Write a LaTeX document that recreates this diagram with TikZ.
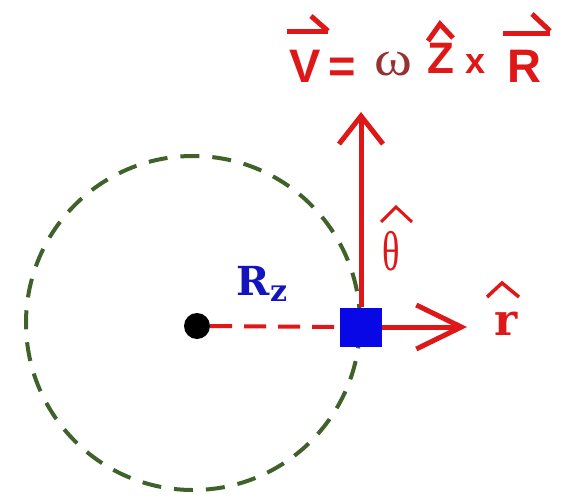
\documentclass[tikz,border=0pt]{standalone}
\usepackage{fontspec}
\setmainfont{Liberation Sans}
\newfontfamily\serifF{Liberation Serif}
\newfontfamily\slabF{DejaVu Serif}
\usetikzlibrary{arrows.meta}
\definecolor{vred}{RGB}{222,24,24}
\definecolor{omred}{RGB}{150,50,50}
\definecolor{cgreen}{RGB}{62,98,42}
\definecolor{sqblue}{RGB}{8,8,230}
\definecolor{rblue}{RGB}{20,20,190}
\tikzset{
  lbl/.style={anchor=base, inner sep=0pt, outer sep=0pt},
  big/.style={lbl, text=vred, font=\fontsize{47}{50}\selectfont\bfseries},
  vecbar/.style={vred, line width=5pt},
  hatline/.style={vred, line width=3.5pt},
  vecarrow/.style={vred, line width=5pt},
}
\begin{document}
\begin{tikzpicture}[x=1pt,y=-1pt]
\useasboundingbox (0,0) rectangle (570,498);
% orbit
\draw[cgreen, line width=4pt, dash pattern=on 19pt off 13pt] (193,323) circle[radius=167pt];
% centre and particle
\node[circle, fill=black, minimum size=26pt, inner sep=0pt] (dot) at (197,326) {};
\coordinate (up) at (361,112);
\coordinate (rt) at (467,327);
\draw[vred, line width=4pt, dash pattern=on 22pt off 12pt] (dot.east) -- (340,327);
\node[fill=sqblue, minimum width=42pt, minimum height=39pt, inner sep=0pt] (sq) at (361,327) {};
\draw[vecarrow, -{Straight Barb[length=28pt,width=44pt]}] (sq.north) -- (up);
\draw[vecarrow, -{Straight Barb[length=45pt,width=44pt]}] (sq.east) -- (rt);
% labels
\node[lbl, text=rblue, font=\fontsize{40}{46}\selectfont\slabF\bfseries] (Rl) at (262,295)
  {R\raisebox{-6pt}{\fontsize{30}{34}\selectfont z}};
\node[lbl, text=vred, font=\fontsize{44}{48}\selectfont\slabF\bfseries] (rl) at (506,335) {r};
\draw[hatline] (487,297) -- (502,283) -- (519,297);
\node[lbl, text=vred, xscale=0.65, font=\fontsize{56}{60}\selectfont\serifF] (th) at (391,270) {θ};
\draw[hatline, line width=3pt] (381,222) -- (396,207) -- (412,222);
% formula
\node[big] (V) at (305,82) {V};
\draw[vecbar] (287,31) -- (328,31);
\draw[vecbar] (311,16) -- (328,31);
\node[big] (eq) at (342,82) {=};
\node[lbl, text=omred, xscale=1.15, font=\fontsize{50}{54}\selectfont\serifF] (om) at (393,75) {ω};
\node[lbl, text=vred, font=\fontsize{44}{46}\selectfont\bfseries] (Z) at (441,73) {Z};
\draw[vecbar] (428,41) -- (440,24) -- (453,38);
\node[lbl, text=vred, font=\fontsize{36}{38}\selectfont\bfseries] (x) at (476,73) {x};
\node[big] (R) at (524,82) {R};
\draw[vecbar] (503,33) -- (550,33);
\draw[vecbar] (532,14) -- (550,31);
\end{tikzpicture}
\end{document}
